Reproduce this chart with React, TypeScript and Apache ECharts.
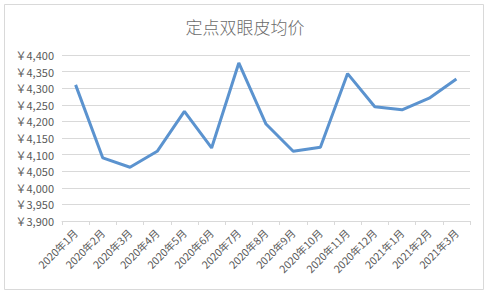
import React, { useEffect, useRef } from "react";
import * as echarts from "echarts";

const title = "定点双眼皮均价";
const categories = [
  "2020年1月", "2020年2月", "2020年3月", "2020年4月", "2020年5月",
  "2020年6月", "2020年7月", "2020年8月", "2020年9月", "2020年10月",
  "2020年11月", "2020年12月", "2021年1月", "2021年2月", "2021年3月",
];
const prices = [4310, 4090, 4062, 4110, 4230, 4120, 4376, 4192, 4110, 4122, 4344, 4244, 4235, 4270, 4328];
const yMin = 3900;
const yMax = 4400;
const yStep = 50;

export default function App() {
  const ref = useRef<HTMLDivElement>(null);
  useEffect(() => {
    if (!ref.current) return;
    const chart = echarts.init(ref.current, null, { renderer: "svg" });
    const font = "'Noto Sans CJK SC', 'Noto Sans', sans-serif";
    chart.setOption({
      animation: false,
      backgroundColor: "#ffffff",
      title: {
        text: title,
        left: "center",
        top: 13,
        textStyle: { fontSize: 17, fontWeight: 300, color: "#6b6b6b", fontFamily: font },
      },
      graphic: [
        {
          type: "rect",
          shape: { x: 4.5, y: 4.5, width: 479, height: 285 },
          style: { fill: "none", stroke: "#d9d9d9", lineWidth: 1 },
          silent: true,
        },
      ],
      grid: { left: 62, right: 20, top: 55, bottom: 76 },
      xAxis: {
        type: "category",
        data: categories,
        boundaryGap: true,
        axisLine: { lineStyle: { color: "#d9d9d9" } },
        axisTick: { show: true, length: 4, lineStyle: { color: "#d9d9d9" } },
        axisLabel: {
          rotate: 45,
          interval: 0,
          color: "#595959",
          fontSize: 10.5,
          fontFamily: font,
          margin: 10,
        },
      },
      yAxis: {
        type: "value",
        min: yMin,
        max: yMax,
        interval: yStep,
        axisLine: { show: false },
        axisTick: { show: false },
        splitLine: { lineStyle: { color: "#d9d9d9" } },
        axisLabel: {
          color: "#595959",
          fontSize: 11,
          fontFamily: font,
          margin: 8,
          formatter: (v: number) => "￥" + v.toLocaleString("en-US"),
        },
      },
      series: [
        {
          type: "line",
          data: prices,
          symbol: "none",
          lineStyle: { color: "#5b93cf", width: 3 },
        },
      ],
    });
    return () => chart.dispose();
  }, []);
  return (
    <div
      ref={ref}
      style={{ position: "fixed", left: 0, top: 0, width: 490, height: 297 }}
    />
  );
}
